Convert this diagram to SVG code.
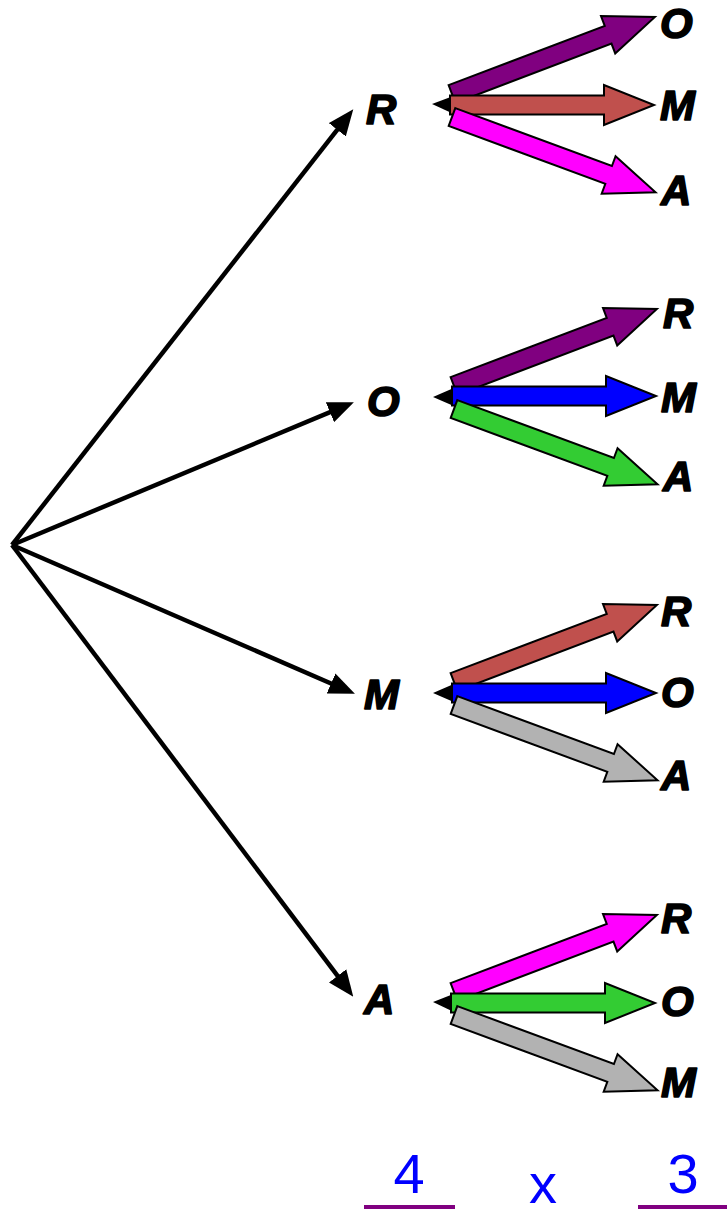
<svg xmlns="http://www.w3.org/2000/svg" xmlns:xlink="http://www.w3.org/1999/xlink" width="727" height="1209" viewBox="0 0 727 1209">
  <style>
    .lbl { font-family: "Liberation Sans", Arial, sans-serif; font-weight: bold; font-style: italic; font-size: 42px; fill: #000; stroke: #000; stroke-width: 1.6; stroke-linejoin: round; }
    .num { font-family: "Liberation Sans", Arial, sans-serif; font-size: 56px; fill: #0000FF; }
    .branch { stroke: #000; stroke-width: 4.5; fill: none; marker-end: url(#head); }
    .fat { stroke: #000; stroke-width: 2; stroke-linejoin: miter; }
    .stub { fill: #000; }
    .purple { fill: #800080; }
    .brick { fill: #C0504D; }
    .magenta { fill: #FF00FF; }
    .blue { fill: #0000FF; }
    .green { fill: #33CC33; }
    .gray { fill: #B2B2B2; }
    .rule { fill: #800080; }
  </style>
  <defs>
    <marker id="head" markerUnits="userSpaceOnUse" markerWidth="26" markerHeight="22" viewBox="0 0 24 20" refX="11" refY="10" orient="auto">
      <path d="M0,0 L24,10 L0,20 z" fill="#000"/>
    </marker>
    <!-- block arrows, tail at origin, pointing along +x -->
    <path id="fatH" d="M0,-9.5 L154,-9.5 L154,-20 L204,0 L154,20 L154,9.5 L0,9.5 z"/>
    <path id="fatD" d="M0,-9.5 L167,-9.5 L167,-20 L217,0 L167,20 L167,9.5 L0,9.5 z"/>
  </defs>

  <!-- tree branches and block arrows -->
  <g id="connectors">
    <line class="branch" x1="12" y1="545" x2="344.6" y2="120.4"/>
    <line class="branch" x1="12" y1="545" x2="340.9" y2="407.6"/>
    <line class="branch" x1="12" y1="545" x2="342.0" y2="688.2"/>
    <line class="branch" x1="12" y1="545" x2="344.8" y2="985.4"/>

    <!-- from R -->
    <g transform="translate(0,105)">
      <polygon class="stub" points="432,-1 456,-10 456,10"/>
      <use xlink:href="#fatD" class="fat purple" transform="translate(452,-11) rotate(-20.8)"/>
      <use xlink:href="#fatH" class="fat brick" transform="translate(450,0)"/>
      <use xlink:href="#fatD" class="fat magenta" transform="translate(452,12) rotate(20.3)"/>
    </g>
    <!-- from O -->
    <g transform="translate(0,396)">
      <polygon class="stub" points="433,1 456,-9 456,11"/>
      <use xlink:href="#fatD" class="fat purple" transform="translate(454,-10) rotate(-20.8)"/>
      <use xlink:href="#fatH" class="fat blue" transform="translate(452,0)"/>
      <use xlink:href="#fatD" class="fat green" transform="translate(454,13) rotate(20.3)"/>
    </g>
    <!-- from M -->
    <g transform="translate(0,693)">
      <polygon class="stub" points="433,0 456,-10 456,10"/>
      <use xlink:href="#fatD" class="fat brick" transform="translate(454,-11) rotate(-20.8)"/>
      <use xlink:href="#fatH" class="fat blue" transform="translate(452,0)"/>
      <use xlink:href="#fatD" class="fat gray" transform="translate(454,12) rotate(20.3)"/>
    </g>
    <!-- from A -->
    <g transform="translate(0,1003)">
      <polygon class="stub" points="433,-1 456,-10 456,10"/>
      <use xlink:href="#fatD" class="fat magenta" transform="translate(454,-11) rotate(-20.8)"/>
      <use xlink:href="#fatH" class="fat green" transform="translate(451,0)"/>
      <use xlink:href="#fatD" class="fat gray" transform="translate(454,12) rotate(20.3)"/>
    </g>
  </g>

  <!-- first-level nodes -->
  <g id="node-R"><text class="lbl" x="366" y="124">R</text></g>
  <g id="node-O"><text class="lbl" x="367" y="416">O</text></g>
  <g id="node-M"><text class="lbl" x="364" y="709">M</text></g>
  <g id="node-A"><text class="lbl" x="364" y="1014">A</text></g>

  <!-- second-level nodes -->
  <g id="node-R-O"><text class="lbl" x="660" y="38">O</text></g>
  <g id="node-R-M"><text class="lbl" x="660" y="120">M</text></g>
  <g id="node-R-A"><text class="lbl" x="661" y="205">A</text></g>

  <g id="node-O-R"><text class="lbl" x="663" y="328">R</text></g>
  <g id="node-O-M"><text class="lbl" x="661" y="412">M</text></g>
  <g id="node-O-A"><text class="lbl" x="663" y="491">A</text></g>

  <g id="node-M-R"><text class="lbl" x="661" y="626">R</text></g>
  <g id="node-M-O"><text class="lbl" x="661" y="707">O</text></g>
  <g id="node-M-A"><text class="lbl" x="661" y="790">A</text></g>

  <g id="node-A-R"><text class="lbl" x="661" y="933">R</text></g>
  <g id="node-A-O"><text class="lbl" x="661" y="1016">O</text></g>
  <g id="node-A-M"><text class="lbl" x="661" y="1097">M</text></g>

  <!-- count -->
  <g id="count">
    <text class="num" x="409" y="1193" text-anchor="middle">4</text>
    <text class="num" x="543" y="1203" text-anchor="middle">x</text>
    <text class="num" x="683" y="1193" text-anchor="middle">3</text>
    <rect class="rule" x="364" y="1205" width="91" height="4"/>
    <rect class="rule" x="638" y="1205" width="89" height="4"/>
  </g>
</svg>
